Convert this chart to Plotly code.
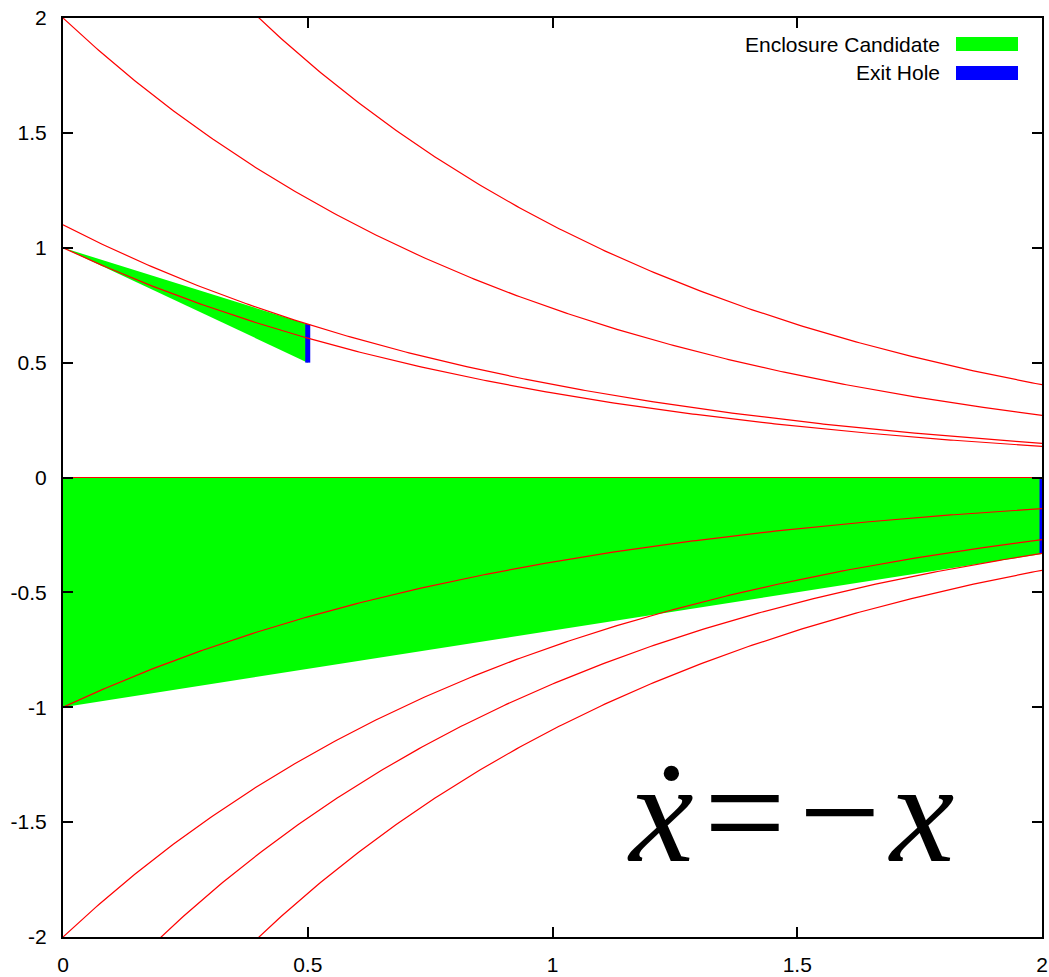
import numpy as np
import plotly.graph_objects as go

# ---- data ----
# solution curves of x' = -x : x(t) = x0 * exp(-(t - t0))
curve_x0 = [1.0, 1.1, 2.0, 2.0, 0.0, -1.0, -2.0, -2.0, -2.0]
curve_t0 = [0.0, 0.0, 0.0, 0.4, 0.0, 0.0, 0.0, 0.2, 0.4]

upper_enclosure_t = [0.0, 0.5, 0.5]
upper_enclosure_x = [1.0, 0.667, 0.5]
lower_enclosure_t = [0.0, 2.0, 2.0, 0.0]
lower_enclosure_x = [0.0, 0.0, -0.333, -1.0]

upper_exit_t = [0.5, 0.5]
upper_exit_x = [0.5, 0.667]
lower_exit_t = [2.0, 2.0]
lower_exit_x = [0.0, -0.333]

x_ticks = [0, 0.5, 1, 1.5, 2]
x_tick_labels = ["0", "0.5", "1", "1.5", "2"]
y_ticks = [-2, -1.5, -1, -0.5, 0, 0.5, 1, 1.5, 2]
y_tick_labels = ["-2", "-1.5", "-1", "-0.5", "0", "0.5", "1", "1.5", "2"]

legend_labels = ["Enclosure Candidate", "Exit Hole"]

GREEN = "#00ff00"
BLUE = "#0000ff"
RED = "#ff0000"

fig = go.Figure()

# enclosure fills
for tt, xx in [(upper_enclosure_t, upper_enclosure_x), (lower_enclosure_t, lower_enclosure_x)]:
    fig.add_trace(go.Scatter(x=tt, y=xx, mode="lines", fill="toself",
                             fillcolor=GREEN, line=dict(width=0, color=GREEN),
                             showlegend=False, hoverinfo="skip"))

# exit holes
for tt, xx in [(upper_exit_t, upper_exit_x), (lower_exit_t, lower_exit_x)]:
    fig.add_trace(go.Scatter(x=tt, y=xx, mode="lines",
                             line=dict(width=5, color=BLUE),
                             showlegend=False, hoverinfo="skip"))

# trajectories
t = np.linspace(0, 2, 301)
for x0, t0 in zip(curve_x0, curve_t0):
    fig.add_trace(go.Scatter(x=t, y=x0 * np.exp(-(t - t0)), mode="lines",
                             line=dict(width=1.2, color=RED),
                             showlegend=False, hoverinfo="skip"))

L, R, T, B = 63, 7, 18, 40
W, H = 1049, 977
pw, ph = W - L - R, H - T - B


def px(xp):
    return (xp - L) / pw


def py(yp):
    return (H - B - yp) / ph


font = dict(family="Liberation Sans, Arial, sans-serif", size=21, color="black")

annotations = []
shapes = []
# manual legend (text then swatch, gnuplot style)
for i, (lab, col) in enumerate(zip(legend_labels, [GREEN, BLUE])):
    yc = 44 + 29 * i
    annotations.append(dict(text=lab, xref="paper", yref="paper", x=px(942), y=py(yc),
                            xanchor="right", yanchor="middle", showarrow=False, font=font))
    shapes.append(dict(type="rect", xref="paper", yref="paper", x0=px(956), x1=px(1018),
                       y0=py(yc - 7), y1=py(yc + 7), fillcolor=col, line=dict(width=0)))

# equation  x' = -x
eq_font = dict(family="Liberation Serif, Times New Roman, serif", size=145, color="black")
for txt, xc in [("<i>ẋ</i>", 660), ("=", 745), ("−", 840), ("<i>x</i>", 921)]:
    annotations.append(dict(text=txt, xref="paper", yref="paper", x=px(xc), y=py(812),
                            xanchor="center", yanchor="middle", showarrow=False, font=eq_font))

fig.update_layout(
    width=W, height=H, autosize=False,
    margin=dict(l=L, r=R, t=T, b=B, autoexpand=False),
    paper_bgcolor="white", plot_bgcolor="white",
    font=font,
    annotations=annotations, shapes=shapes,
    xaxis=dict(range=[0, 2], tickvals=x_ticks, ticktext=x_tick_labels, automargin=False,
               showgrid=False, zeroline=False, showline=True, linecolor="black",
               linewidth=2, mirror="ticks", ticks="inside", ticklen=10, tickwidth=1.5,
               tickcolor="black", ticklabelstandoff=8, tickfont=font),
    yaxis=dict(range=[-2, 2], tickvals=y_ticks, ticktext=y_tick_labels, automargin=False,
               showgrid=False, zeroline=False, showline=True, linecolor="black",
               linewidth=2, mirror="ticks", ticks="inside", ticklen=10, tickwidth=1.5,
               tickcolor="black", ticklabelstandoff=10, tickfont=font),
)

fig.write_html("out.html", config={"displayModeBar": False},
               post_script="document.body.style.margin='0';document.body.style.overflow='hidden';")
